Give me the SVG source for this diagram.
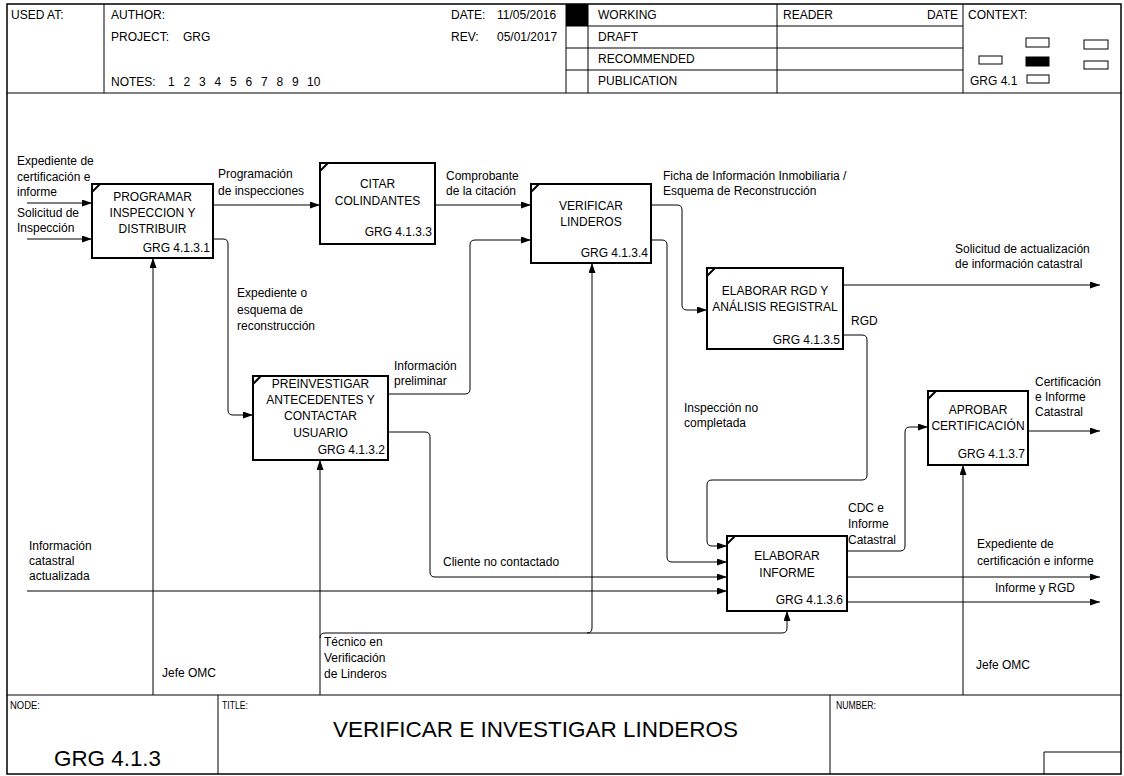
<svg xmlns="http://www.w3.org/2000/svg" width="1124" height="776" viewBox="0 0 1124 776">
<style>
text{font-family:"Liberation Sans",Arial,sans-serif;font-size:12px;fill:#000}
.c{text-anchor:middle}
.e{text-anchor:end}
.box{fill:#fff;stroke:#000;stroke-width:2}
.notch{stroke:#000;stroke-width:2}
.frame{fill:none;stroke:#000;stroke-width:1.5}
.ln{fill:none;stroke:#000;stroke-width:1}
.conn{fill:none;stroke:#000;stroke-width:1;marker-end:url(#arr)}
.mini{fill:#fff;stroke:#000;stroke-width:1}
.ft{font-size:11px}
</style>
<defs>
<marker id="arr" markerUnits="userSpaceOnUse" markerWidth="11" markerHeight="8" refX="10" refY="3.5" orient="auto">
<path d="M0,0 L10,3.5 L0,7 z" fill="#000"/>
</marker>
</defs>
<rect width="1124" height="776" fill="#fff"/>
<g id="frame">
<rect class="frame" x="7" y="4" width="1114" height="770"/>
<line class="ln" x1="7" y1="93" x2="1121" y2="93"/>
<line class="ln" x1="7" y1="695" x2="1121" y2="695"/>
<line class="ln" x1="104" y1="4" x2="104" y2="93"/>
<line class="ln" x1="566" y1="4" x2="566" y2="93"/>
<line class="ln" x1="588" y1="4" x2="588" y2="93"/>
<line class="ln" x1="777" y1="4" x2="777" y2="93"/>
<line class="ln" x1="963" y1="4" x2="963" y2="93"/>
<line class="ln" x1="566" y1="26" x2="963" y2="26"/>
<line class="ln" x1="566" y1="48" x2="963" y2="48"/>
<line class="ln" x1="566" y1="70" x2="963" y2="70"/>
<rect x="566" y="4" width="22" height="22" fill="#000"/>
<line class="ln" x1="218" y1="695" x2="218" y2="774"/>
<line class="ln" x1="830" y1="695" x2="830" y2="774"/>
<polyline class="ln" points="1044,774 1044,752 1121,752"/>
<rect class="mini" x="1026" y="38" width="23" height="9"/>
<rect class="mini" x="1084" y="40" width="24" height="9"/>
<rect class="mini" x="979" y="56" width="23" height="8"/>
<rect x="1026" y="57" width="23" height="9" fill="#000" stroke="#000"/>
<rect class="mini" x="1084" y="61" width="24" height="8"/>
<rect class="mini" x="1027" y="75" width="22" height="8"/>
<text x="11" y="19">USED AT:</text>
<text x="111" y="19">AUTHOR:</text>
<text x="111" y="41">PROJECT:</text>
<text x="183" y="41">GRG</text>
<text x="111" y="86">NOTES:</text>
<text x="168 183.5 199 214.5 230 245.5 261 276.5 292 307" y="86">12345678910</text>
<text x="451" y="19">DATE:</text>
<text x="497" y="19">11/05/2016</text>
<text x="451" y="41">REV:</text>
<text x="497" y="41">05/01/2017</text>
<text x="598" y="19">WORKING</text>
<text x="598" y="41">DRAFT</text>
<text x="598" y="63">RECOMMENDED</text>
<text x="598" y="85">PUBLICATION</text>
<text x="783" y="19">READER</text>
<text x="958" y="19" class="e">DATE</text>
<text x="968" y="19">CONTEXT:</text>
<text x="970" y="85">GRG 4.1</text>
<text x="10" y="709" class="ft" textLength="30" lengthAdjust="spacingAndGlyphs">NODE:</text>
<text x="222" y="709" class="ft" textLength="26" lengthAdjust="spacingAndGlyphs">TITLE:</text>
<text x="836" y="709" class="ft" textLength="40" lengthAdjust="spacingAndGlyphs">NUMBER:</text>
<text x="333" y="737" style="font-size:22px" textLength="405" lengthAdjust="spacingAndGlyphs">VERIFICAR E INVESTIGAR LINDEROS</text>
<text x="54" y="766" style="font-size:22px" textLength="107" lengthAdjust="spacingAndGlyphs">GRG 4.1.3</text>
</g>
<g id="connectors">
<path class="conn" d="M27 203 H92"/>
<path class="conn" d="M27 239 H92"/>
<path class="conn" d="M213 205 H320"/>
<path class="conn" d="M213 239 H223 Q228 239 228 244 V410 Q228 415 233 415 H253"/>
<path class="conn" d="M435 205 H531"/>
<path class="conn" d="M388 394 H465 Q470 394 470 389 V245 Q470 240 475 240 H531"/>
<path class="conn" d="M651 205 H677 Q682 205 682 210 V305 Q682 310 687 310 H707"/>
<path class="conn" d="M651 240 H662 Q667 240 667 245 V557 Q667 562 672 562 H727"/>
<path class="conn" d="M843 285 H1100"/>
<path class="conn" d="M843 335 H862 Q867 335 867 340 V475 Q867 480 862 480 H712 Q707 480 707 485 V541 Q707 546 712 546 H727"/>
<path class="conn" d="M388 432 H425 Q430 432 430 437 V572 Q430 577 435 577 H727"/>
<path class="conn" d="M27 591 H727"/>
<path class="conn" d="M153 695 V258"/>
<path class="conn" d="M320 695 V460"/>
<path class="conn" d="M320 638 Q320 633 325 633 H782 Q787 633 787 628 V611"/>
<path class="conn" d="M587 633 Q592 633 592 628 V263"/>
<path class="conn" d="M847 551 H900 Q905 551 905 546 V432 Q905 427 910 427 H928"/>
<path class="conn" d="M1028 431 H1100"/>
<path class="conn" d="M963 695 V465"/>
<path class="conn" d="M847 577 H1100"/>
<path class="conn" d="M847 602 H1100"/>
</g>
<g id="labels">
<text x="17" y="165">Expediente de</text>
<text x="17" y="181">certificación e</text>
<text x="17" y="196">informe</text>
<text x="17" y="217">Solicitud de</text>
<text x="17" y="232">Inspección</text>
<text x="218" y="178">Programación</text>
<text x="218" y="195">de inspecciones</text>
<text x="446" y="180">Comprobante</text>
<text x="446" y="195">de la citación</text>
<text x="663" y="180">Ficha de Información Inmobiliaria /</text>
<text x="663" y="195">Esquema de Reconstrucción</text>
<text x="955" y="253">Solicitud de actualización</text>
<text x="955" y="268">de información catastral</text>
<text x="851" y="325">RGD</text>
<text x="237" y="297">Expediente o</text>
<text x="237" y="314">esquema de</text>
<text x="237" y="330">reconstrucción</text>
<text x="394" y="370">Información</text>
<text x="394" y="385">preliminar</text>
<text x="684" y="412">Inspección no</text>
<text x="684" y="427">completada</text>
<text x="1035" y="386">Certificación</text>
<text x="1035" y="401">e Informe</text>
<text x="1035" y="416">Catastral</text>
<text x="848" y="512">CDC e</text>
<text x="848" y="528">Informe</text>
<text x="848" y="544">Catastral</text>
<text x="29" y="550">Información</text>
<text x="29" y="565">catastral</text>
<text x="29" y="580">actualizada</text>
<text x="443" y="566">Cliente no contactado</text>
<text x="977" y="548">Expediente de</text>
<text x="977" y="565">certificación e informe</text>
<text x="995" y="592">Informe y  RGD</text>
<text x="162" y="677">Jefe OMC</text>
<text x="976" y="669">Jefe OMC</text>
<text x="324" y="646">Técnico en</text>
<text x="324" y="662">Verificación</text>
<text x="324" y="678">de Linderos</text>
</g>
<g id="n1">
<rect class="box" x="92" y="184" width="121" height="74"/>
<line class="notch" x1="92" y1="192" x2="100" y2="184"/>
<text class="c" x="152.5" y="201">PROGRAMAR</text>
<text class="c" x="152.5" y="217">INSPECCION Y</text>
<text class="c" x="152.5" y="233">DISTRIBUIR</text>
<text class="e" x="210" y="252">GRG 4.1.3.1</text>
</g>
<g id="n3">
<rect class="box" x="320" y="163" width="115" height="81"/>
<line class="notch" x1="320" y1="171" x2="328" y2="163"/>
<text class="c" x="377.5" y="188">CITAR</text>
<text class="c" x="377.5" y="205">COLINDANTES</text>
<text class="e" x="432" y="236">GRG 4.1.3.3</text>
</g>
<g id="n4">
<rect class="box" x="531" y="184" width="120" height="79"/>
<line class="notch" x1="531" y1="192" x2="539" y2="184"/>
<text class="c" x="591" y="210">VERIFICAR</text>
<text class="c" x="591" y="226">LINDEROS</text>
<text class="e" x="648" y="257">GRG 4.1.3.4</text>
</g>
<g id="n5">
<rect class="box" x="707" y="268" width="136" height="81"/>
<line class="notch" x1="707" y1="276" x2="715" y2="268"/>
<text class="c" x="775" y="295">ELABORAR RGD Y</text>
<text class="c" x="775" y="311">ANÁLISIS REGISTRAL</text>
<text class="e" x="840" y="344">GRG 4.1.3.5</text>
</g>
<g id="n2">
<rect class="box" x="253" y="376" width="135" height="84"/>
<line class="notch" x1="253" y1="384" x2="261" y2="376"/>
<text class="c" x="320.5" y="388">PREINVESTIGAR</text>
<text class="c" x="320.5" y="404">ANTECEDENTES Y</text>
<text class="c" x="320.5" y="420">CONTACTAR</text>
<text class="c" x="320.5" y="437">USUARIO</text>
<text class="e" x="385" y="454">GRG 4.1.3.2</text>
</g>
<g id="n7">
<rect class="box" x="928" y="391" width="100" height="74"/>
<line class="notch" x1="928" y1="399" x2="936" y2="391"/>
<text class="c" x="978" y="414">APROBAR</text>
<text class="c" x="978" y="430">CERTIFICACIÓN</text>
<text class="e" x="1025" y="458">GRG 4.1.3.7</text>
</g>
<g id="n6">
<rect class="box" x="727" y="536" width="120" height="75"/>
<line class="notch" x1="727" y1="544" x2="735" y2="536"/>
<text class="c" x="787" y="560">ELABORAR</text>
<text class="c" x="787" y="577">INFORME</text>
<text class="e" x="843" y="604">GRG 4.1.3.6</text>
</g>
</svg>
